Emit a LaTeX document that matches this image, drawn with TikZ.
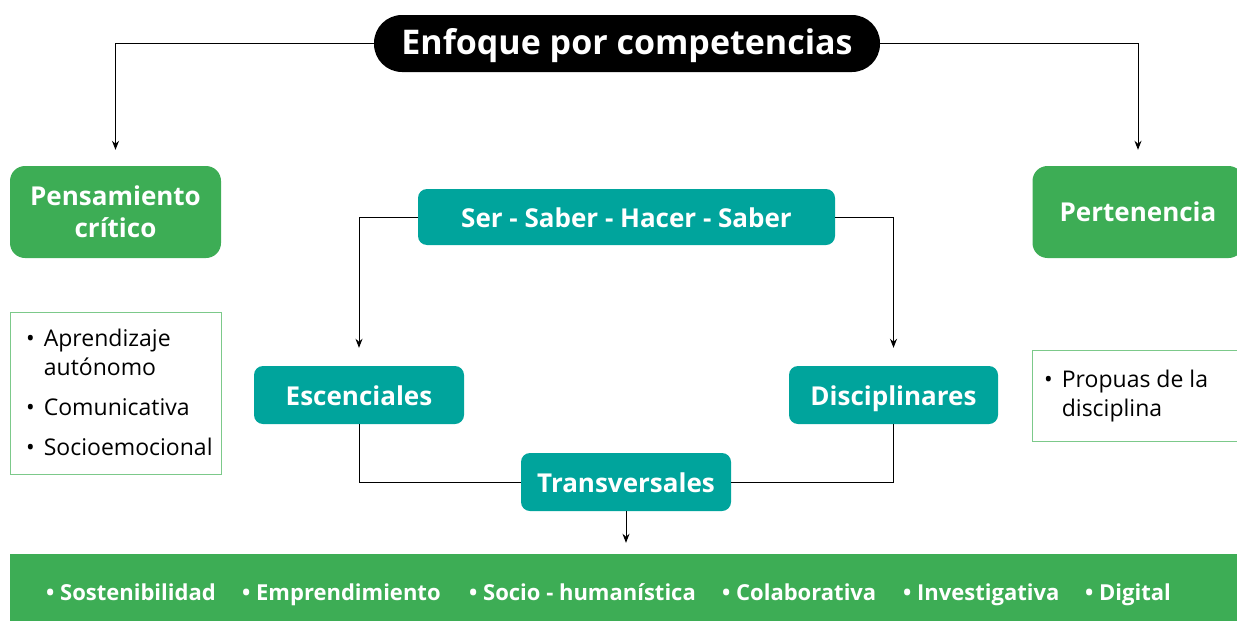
\documentclass[tikz,border=0pt]{standalone}
\usepackage{fontspec}
\setmainfont{Open Sans}
\usetikzlibrary{arrows.meta}
\definecolor{cgreen}{HTML}{3DAD55}
\definecolor{cteal}{HTML}{00A49C}
\definecolor{clight}{HTML}{7CC98A}
\tikzset{
  x=1pt,y=-1pt,
  title/.style={fill=black,text=white,rounded corners=28pt,minimum width=506pt,minimum height=57pt,font=\bfseries\fontsize{34}{40}\selectfont,inner sep=0pt,text height=26pt,text depth=4pt},
  gbox/.style={fill=cgreen,text=white,rounded corners=15pt,minimum width=211pt,minimum height=92pt,font=\bfseries\fontsize{26}{32}\selectfont,align=center,inner sep=0pt},
  tbox/.style={fill=cteal,text=white,rounded corners=9pt,minimum height=58pt,font=\bfseries\fontsize{26}{31}\selectfont,inner sep=0pt,text height=22pt,text depth=2pt},
  lbox/.style={draw=clight,line width=1pt,fill=white,inner sep=0pt},
  ltext/.style={font=\fontsize{23}{29}\selectfont,align=left,inner sep=0pt,anchor=north west},
  btext/.style={font=\bfseries\fontsize{22}{26}\selectfont,text=white,anchor=base west,inner sep=0pt},
  conn/.style={line width=1pt,-{Stealth[length=9pt,width=7pt]}},
  link/.style={line width=1pt},
}
\begin{document}
\begin{tikzpicture}
\useasboundingbox (0,0) rectangle (1237,621);
% nodes
\node[title] (tit) at (627,43.5) {Enfoque por competencias};
\node[gbox,text height=52pt,text depth=2pt] (pc) at (115.5,212) {Pensamiento\\crítico};
\node[gbox,text height=21pt,text depth=3pt] (per) at (1138,212) {Pertenencia};
\node[tbox,minimum width=417pt,minimum height=56pt] (ser) at (626.5,217) {Ser - Saber - Hacer - Saber};
\node[tbox,minimum width=210pt] (esc) at (359,395) {Escenciales};
\node[tbox,minimum width=209pt] (dis) at (893.5,395) {Disciplinares};
\node[tbox,minimum width=210pt] (tra) at (626,482) {Transversales};
\node[fill=cgreen,minimum width=1240pt,minimum height=72pt,inner sep=0pt] (bar) at (630,590) {};
\node[lbox,minimum width=211pt,minimum height=162pt] (ll) at (115.5,393) {};
\node[lbox,minimum width=214pt,minimum height=91pt] (rl) at (1139,395.5) {};
% list texts
\node[ltext] (llt) at (26,326) {\begin{tabular}{@{}l@{\hspace{9pt}}l@{}}\textbullet & Aprendizaje\\ & autónomo\\[11pt] \textbullet & Comunicativa\\[11pt] \textbullet & Socioemocional\end{tabular}};
\node[ltext] (rlt) at (1044,367) {\begin{tabular}{@{}l@{\hspace{9pt}}l@{}}\textbullet & Propuas de la\\ & disciplina\end{tabular}};
% bar items
\node[btext] (b1) at (46,600) {\textbullet\ Sostenibilidad};
\node[btext] (b2) at (242,600) {\textbullet\ Emprendimiento};
\node[btext] (b3) at (469,600) {\textbullet\ Socio - humanística};
\node[btext] (b4) at (722,600) {\textbullet\ Colaborativa};
\node[btext] (b5) at (903,600) {\textbullet\ Investigativa};
\node[btext] (b6) at (1085,600) {\textbullet\ Digital};
% connectors
\draw[conn,shorten >=16pt] (tit.west) -| (pc.north);
\draw[conn,shorten >=16pt] (tit.east) -| (per.north);
\draw[conn,shorten >=18pt] (ser.west) -| (esc.north);
\draw[conn,shorten >=18pt] (ser.east) -| (dis.north);
\draw[link] (esc.south) |- (tra.west);
\draw[link] (dis.south) |- (tra.east);
\draw[conn,shorten >=11pt] (tra.south) -- (tra.south |- bar.north);
\end{tikzpicture}
\end{document}
